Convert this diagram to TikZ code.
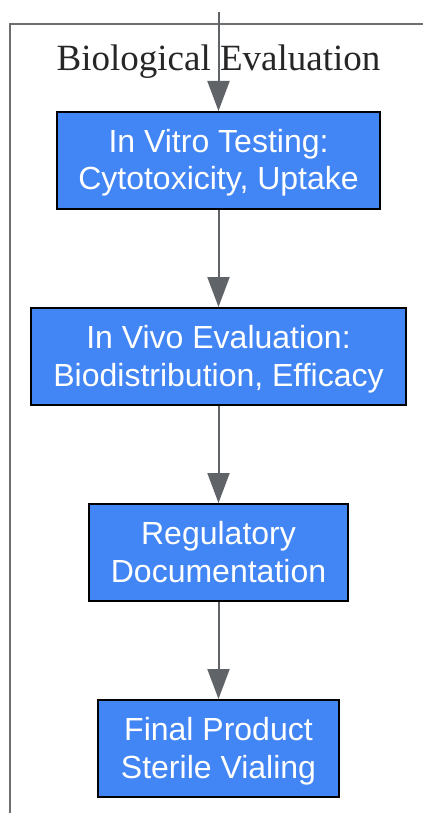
\documentclass[tikz,border=0pt]{standalone}
\usepackage{fontspec}
\setmainfont{Liberation Serif}
\newfontfamily\boxfont{Liberation Sans}
\usetikzlibrary{arrows.meta}
\definecolor{boxblue}{HTML}{4285F4}
\definecolor{edgegray}{HTML}{606368}
\definecolor{clustergray}{HTML}{6E6E70}
\definecolor{titlegray}{HTML}{262626}
\newcommand{\twolines}[2]{\raisebox{-29.5pt}[0pt][0pt]{\begin{tabular}[b]{@{}c@{}}#1\\#2\end{tabular}}}
\begin{document}
\begin{tikzpicture}[x=1pt,y=-1pt,
  stepbox/.style={draw=black,line width=2pt,fill=boxblue,text=white,
    font=\boxfont\fontsize{32}{37.5}\selectfont,
    inner sep=0pt,anchor=north},
  flow/.style={draw=edgegray,line width=2pt,
    -{Triangle[length=30pt,width=22pt]}}]
\useasboundingbox (0,0) rectangle (423,813);
\draw[clustergray,line width=2.2pt] (423,24) -- (10,24) -- (10,813);
\node[font=\fontsize{37}{40}\selectfont,text=titlegray,anchor=base] (title) at (218.5,70.5) {Biological Evaluation};
\node[stepbox,minimum width=323pt,minimum height=97pt] (b1) at (218.5,111) {\twolines{In Vitro Testing:}{Cytotoxicity, Uptake}};
\node[stepbox,minimum width=375pt,minimum height=97pt] (b2) at (218.5,307) {\twolines{In Vivo Evaluation:}{Biodistribution, Efficacy}};
\node[stepbox,minimum width=259pt,minimum height=97pt] (b3) at (218.5,503) {\twolines{Regulatory}{Documentation}};
\node[stepbox,minimum width=241pt,minimum height=97pt] (b4) at (218.5,699) {\twolines{Final Product}{Sterile Vialing}};
\coordinate (start) at (218.5,12);
\draw[flow] (start) -- (b1.north);
\draw[flow] (b1.south) -- (b2.north);
\draw[flow] (b2.south) -- (b3.north);
\draw[flow] (b3.south) -- (b4.north);
\end{tikzpicture}
\end{document}
